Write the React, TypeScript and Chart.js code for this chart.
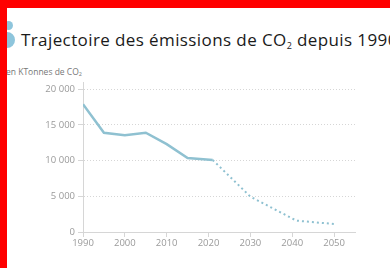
import React, { useEffect, useRef } from "react";
import { Chart, registerables } from "chart.js";

Chart.register(...registerables);

const historicYears = [1990, 1995, 2000, 2005, 2010, 2015, 2021];
const historicValues = [17900, 13900, 13550, 13900, 12300, 10350, 10080];
const projectionYears = [2021, 2030, 2041, 2050];
const projectionValues = [10080, 4950, 1590, 1120];
const xTicks = [1990, 2000, 2010, 2020, 2030, 2040, 2050];
const yTicks = [0, 5000, 10000, 15000, 20000];

const LINE = "#8fc1d1";
const TICK_GREY = "#9a9a9a";
const GRID = "#d6d6d6";

function fmt(v: number) {
  return String(v).replace(/\B(?=(\d{3})+(?!\d))/g, " ");
}

export default function App() {
  const ref = useRef<HTMLCanvasElement | null>(null);

  useEffect(() => {
    document.body.style.margin = "0";
    const canvas = ref.current!;
    const chart = new Chart(canvas, {
      type: "line",
      data: {
        datasets: [
          {
            data: historicYears.map((x, i) => ({ x, y: historicValues[i] })),
            borderColor: LINE,
            borderWidth: 2.5,
            pointRadius: 0,
            tension: 0,
            fill: false,
          },
          {
            data: projectionYears.map((x, i) => ({ x, y: projectionValues[i] })),
            borderColor: LINE,
            borderWidth: 2,
            borderDash: [2, 3],
            pointRadius: 0,
            tension: 0,
            fill: false,
          },
        ],
      },
      options: {
        animation: false,
        responsive: false,
        maintainAspectRatio: false,
        layout: { padding: { top: 22, right: 35, bottom: 0, left: 0 } },
        plugins: { legend: { display: false }, tooltip: { enabled: false } },
        scales: {
          x: {
            type: "linear",
            min: 1990,
            max: 2055,
            afterFit: (s: any) => {
              s.height = 36;
            },
            afterBuildTicks: (s: any) => {
              s.ticks = xTicks.map((v) => ({ value: v }));
            },
            ticks: {
              color: TICK_GREY,
              font: { family: "Open Sans", size: 9.5 },
              padding: 1,
              maxRotation: 0,
              autoSkip: false,
              callback: (v: any) => String(v),
            },
            grid: {
              drawOnChartArea: false,
              drawTicks: true,
              tickLength: 5,
              color: GRID,
              lineWidth: 1,
            },
            border: { display: true, color: GRID, width: 1 },
          },
          y: {
            type: "linear",
            min: 0,
            max: 21000,
            afterFit: (s: any) => {
              s.width = 83;
            },
            afterBuildTicks: (s: any) => {
              s.ticks = yTicks.map((v) => ({ value: v }));
            },
            ticks: {
              color: TICK_GREY,
              font: { family: "Open Sans", size: 9.5 },
              padding: 3,
              autoSkip: false,
              callback: (v: any) => fmt(Number(v)),
            },
            grid: {
              drawOnChartArea: true,
              drawTicks: true,
              tickLength: 5,
              color: (ctx: any) => (ctx.tick && ctx.tick.value === 0 ? "rgba(0,0,0,0)" : GRID),
              tickColor: GRID,
              lineWidth: 1,
            },
            border: { display: true, color: GRID, width: 1, dash: [1, 2] },
          },
        },
      },
    });
    return () => chart.destroy();
  }, []);

  return (
    <div
      style={{
        position: "relative",
        width: 390,
        height: 268,
        background: "#ffffff",
        overflow: "hidden",
        fontFamily: "'Open Sans', sans-serif",
      }}
    >
      <div
        style={{
          position: "absolute",
          left: 4,
          top: 21,
          width: 9,
          height: 9,
          borderRadius: "50%",
          background: "#8ec5dc",
        }}
      />
      <div
        style={{
          position: "absolute",
          left: -1,
          top: 32,
          width: 16,
          height: 16,
          borderRadius: "50%",
          background: "#8ec5dc",
        }}
      />
      <div
        style={{
          position: "absolute",
          left: 21,
          top: 28,
          whiteSpace: "nowrap",
          fontSize: 17,
          fontWeight: 500,
          color: "#1a1a1a",
          lineHeight: "23px",
          letterSpacing: 0.4,
        }}
      >
        Trajectoire des émissions de CO
        <sub style={{ fontSize: 9, verticalAlign: "-3px" }}>2</sub> depuis 1990
      </div>
      <div
        style={{
          position: "absolute",
          left: 6,
          top: 66,
          whiteSpace: "nowrap",
          fontSize: 8.5,
          color: "#777777",
          lineHeight: "11px",
        }}
      >
        en KTonnes de CO<sub style={{ fontSize: 5.5, verticalAlign: "-1px" }}>2</sub>
      </div>
      <canvas
        ref={ref}
        width={390}
        height={208}
        style={{ position: "absolute", left: 0, top: 60, width: 390, height: 208 }}
      />
      <div style={{ position: "absolute", left: 0, top: 0, width: 390, height: 8, background: "#ff0000" }} />
      <div style={{ position: "absolute", left: 0, top: 0, width: 7, height: 268, background: "#ff0000" }} />
    </div>
  );
}
